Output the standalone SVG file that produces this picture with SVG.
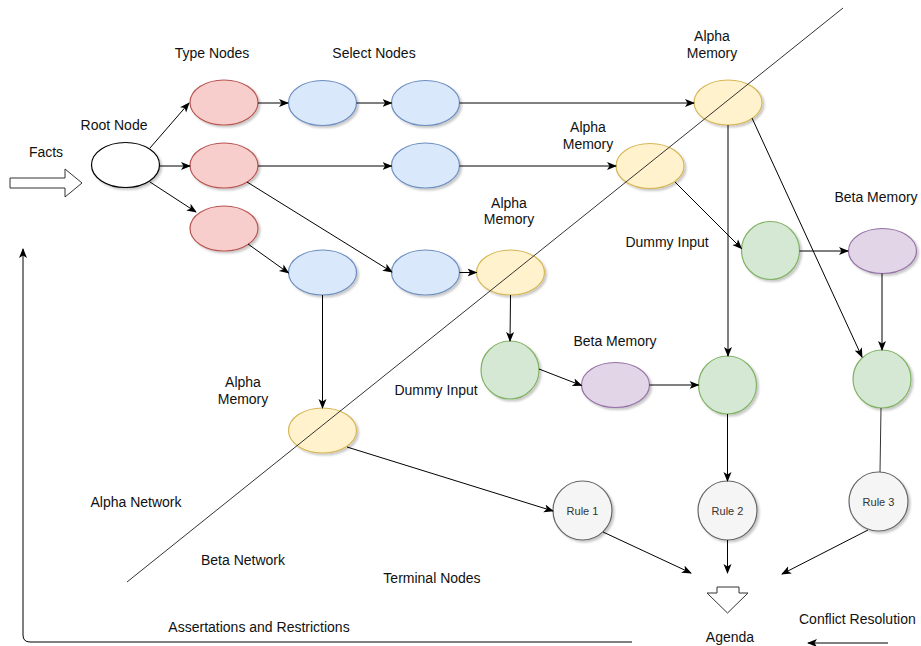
<svg xmlns="http://www.w3.org/2000/svg" width="921" height="646" viewBox="0 0 921 646">
<defs>
<marker id="ah" viewBox="0 0 10 10" refX="9" refY="5" markerWidth="10" markerHeight="10" markerUnits="userSpaceOnUse" orient="auto">
<path d="M0,1 L10,5 L0,9 L2.5,5 Z" fill="#000"/>
</marker>
<filter id="sh" x="-20%" y="-20%" width="150%" height="150%">
<feDropShadow dx="2" dy="2" stdDeviation="1.2" flood-color="#000" flood-opacity="0.22"/>
</filter>
<style>
text{font-family:"Liberation Sans",Arial,sans-serif;font-size:14px;fill:#111;}
.c{text-anchor:middle;}
.r{font-size:11px;fill:#333;text-anchor:middle;}
.e{stroke-width:1.2;filter:url(#sh);}
.root{fill:#fff;stroke:#000;}
.red{fill:#f8cecc;stroke:#b85450;}
.blue{fill:#dae8fc;stroke:#6c8ebf;}
.yel{fill:#fff2cc;stroke:#d6b656;}
.grn{fill:#d5e8d4;stroke:#82b366;}
.pur{fill:#e1d5e7;stroke:#9673a6;}
.gry{fill:#f5f5f5;stroke:#666;}
.ln{fill:none;stroke:#000;stroke-width:1;}
.la{fill:none;stroke:#000;stroke-width:1;marker-end:url(#ah);}
.gl{fill:none;stroke:#333;stroke-width:1;}
</style>
</defs>
<rect width="921" height="646" fill="#fff"/>

<!-- nodes -->
<g id="root"><ellipse class="e root" cx="125.5" cy="165" rx="34" ry="22.5"/></g>
<g id="type1"><ellipse class="e red" cx="224" cy="102.5" rx="34" ry="22.5"/></g>
<g id="type2"><ellipse class="e red" cx="224" cy="165.5" rx="34" ry="22.5"/></g>
<g id="type3"><ellipse class="e red" cx="224" cy="228.5" rx="34" ry="22.5"/></g>
<g id="sel1"><ellipse class="e blue" cx="322.5" cy="103" rx="34" ry="22.5"/></g>
<g id="sel2"><ellipse class="e blue" cx="425.5" cy="103" rx="34" ry="22.5"/></g>
<g id="sel3"><ellipse class="e blue" cx="425.5" cy="165.5" rx="34" ry="22.5"/></g>
<g id="sel4"><ellipse class="e blue" cx="322.5" cy="272.5" rx="34" ry="22.5"/></g>
<g id="sel5"><ellipse class="e blue" cx="425.5" cy="272.5" rx="34" ry="22.5"/></g>
<g id="am1"><ellipse class="e yel" cx="728" cy="102.5" rx="34" ry="22.5"/></g>
<g id="am2"><ellipse class="e yel" cx="650" cy="166" rx="34" ry="22.5"/></g>
<g id="am3"><ellipse class="e yel" cx="510.5" cy="272.5" rx="34" ry="22.5"/></g>
<g id="am4"><ellipse class="e yel" cx="322.5" cy="430.5" rx="34" ry="22.5"/></g>
<g id="g1"><circle class="e grn" cx="770.5" cy="250.5" r="29"/></g>
<g id="g2"><circle class="e grn" cx="510" cy="370" r="29"/></g>
<g id="g3"><circle class="e grn" cx="727.5" cy="385" r="29"/></g>
<g id="g4"><circle class="e grn" cx="882" cy="379" r="29"/></g>
<g id="bm1"><ellipse class="e pur" cx="882.5" cy="251" rx="34" ry="22.5"/></g>
<g id="bm2"><ellipse class="e pur" cx="615.5" cy="385" rx="34" ry="22.5"/></g>
<g id="rule1"><circle class="e gry" cx="582.5" cy="510.5" r="29.5"/><text class="r" x="582.5" y="514.5">Rule 1</text></g>
<g id="rule2"><circle class="e gry" cx="727.5" cy="510.5" r="29.5"/><text class="r" x="727.5" y="514.5">Rule 2</text></g>
<g id="rule3"><circle class="e gry" cx="878.5" cy="501.5" r="29.5"/><text class="r" x="878.5" y="505.5">Rule 3</text></g>
<g id="facts"><path d="M10,178 L65,178 L65,169 L82,183 L65,197 L65,188 L10,188 Z" fill="#fff" stroke="#333" stroke-width="1"/></g>
<g id="agenda"><path d="M717,587 L739,587 L739,593 L748,593 L727.5,613 L707,593 L717,593 Z" fill="#fff" stroke="#333" stroke-width="1"/></g>

<!-- diagonal divider (drawn over the nodes) -->
<g id="divider"><line class="gl" x1="843" y1="8" x2="127" y2="582"/></g>

<!-- connectors -->
<g id="connectors">
<line class="la" x1="150" y1="148" x2="189" y2="103"/>
<line class="la" x1="159.5" y1="166" x2="190" y2="166"/>
<line class="la" x1="150" y1="182" x2="196" y2="212"/>
<line class="la" x1="258" y1="103" x2="288" y2="103"/>
<line class="la" x1="356.5" y1="103" x2="391.5" y2="103"/>
<line class="la" x1="459.5" y1="103" x2="694" y2="103"/>
<line class="la" x1="258" y1="166" x2="391.5" y2="166"/>
<line class="la" x1="459.5" y1="166" x2="616" y2="166"/>
<line class="la" x1="247" y1="182" x2="392" y2="272"/>
<line class="la" x1="248" y1="244" x2="288.5" y2="273"/>
<line class="la" x1="322.5" y1="295" x2="322.5" y2="408"/>
<line class="la" x1="459.5" y1="272.5" x2="476.5" y2="272.5"/>
<line class="la" x1="510.5" y1="295" x2="510" y2="341"/>
<line class="la" x1="539" y1="369" x2="581.5" y2="385.5"/>
<line class="la" x1="649.5" y1="385" x2="698.5" y2="385"/>
<line class="la" x1="728" y1="125" x2="728" y2="356"/>
<line class="la" x1="752" y1="118" x2="862" y2="357"/>
<line class="la" x1="675" y1="182" x2="741.5" y2="248.5"/>
<line class="la" x1="799.5" y1="251" x2="848" y2="251"/>
<line class="la" x1="882" y1="273.5" x2="882" y2="350"/>
<line class="gl" x1="881" y1="408" x2="880" y2="472"/>
<line class="la" x1="347" y1="447" x2="553" y2="511"/>
<line class="la" x1="727.5" y1="414" x2="727.5" y2="481"/>
<line class="la" x1="603" y1="532" x2="691" y2="573"/>
<line class="la" x1="727.5" y1="540" x2="727.5" y2="573"/>
<line class="la" x1="868" y1="530" x2="782" y2="574"/>
<line class="la" x1="888" y1="643" x2="808" y2="643"/>
<path class="la" d="M632,642 L30,642 Q23,642 23,635 L23,249"/>
</g>

<!-- labels -->
<g id="labels">
<text class="c" x="46" y="157">Facts</text>
<text class="c" x="114" y="130">Root Node</text>
<text class="c" x="212" y="58">Type Nodes</text>
<text class="c" x="374" y="58">Select Nodes</text>
<text class="c" x="712" y="41">Alpha</text>
<text class="c" x="712" y="58">Memory</text>
<text class="c" x="588" y="132">Alpha</text>
<text class="c" x="588" y="149">Memory</text>
<text class="c" x="509" y="208">Alpha</text>
<text class="c" x="509" y="224">Memory</text>
<text class="c" x="243" y="387">Alpha</text>
<text class="c" x="243" y="404">Memory</text>
<text class="c" x="876" y="202">Beta Memory</text>
<text class="c" x="667" y="247">Dummy Input</text>
<text class="c" x="436" y="395">Dummy Input</text>
<text class="c" x="615" y="346">Beta Memory</text>
<text class="c" x="136" y="507">Alpha Network</text>
<text class="c" x="243" y="565">Beta Network</text>
<text class="c" x="432" y="583">Terminal Nodes</text>
<text class="c" x="259" y="632">Assertations and Restrictions</text>
<text class="c" x="730" y="642">Agenda</text>
<text x="799" y="624">Conflict Resolution</text>
</g>
</svg>
